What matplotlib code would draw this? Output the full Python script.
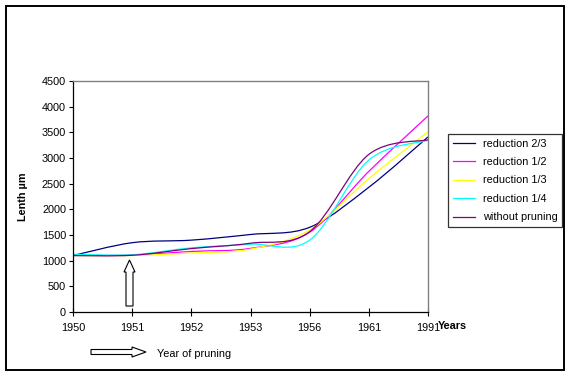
import matplotlib
matplotlib.use('Agg')
import matplotlib.pyplot as plt
from matplotlib.path import Path
from matplotlib.patches import PathPatch, Rectangle, FancyArrow
from matplotlib.lines import Line2D
from matplotlib.transforms import Affine2D

plt.rcParams['font.family'] = ['Liberation Sans', 'DejaVu Sans']

# data
years = ['1950', '1951', '1952', '1953', '1956', '1961', '1991']
red_2_3 = [1100, 1350, 1400, 1510, 1650, 2430, 3410]
red_1_2 = [1100, 1110, 1180, 1240, 1555, 2740, 3820]
red_1_3 = [1100, 1100, 1150, 1225, 1600, 2600, 3510]
red_1_4 = [1125, 1115, 1250, 1320, 1400, 2960, 3345]
no_prune = [1100, 1105, 1235, 1340, 1565, 3070, 3355]

series = [
    ('reduction 2/3', red_2_3, '#000080'),
    ('reduction 1/2', red_1_2, '#FF00FF'),
    ('reduction 1/3', red_1_3, '#FFFF00'),
    ('reduction 1/4', red_1_4, '#00FFFF'),
    ('without pruning', no_prune, '#800080'),
]

W, H = 570, 375
FS = 7.8


def smooth_path(vals):
    # Excel style smoothed line: cubic bezier through each point
    pts = list(zip(range(len(vals)), vals))
    n = len(pts)
    verts = [pts[0]]
    codes = [Path.MOVETO]
    for i in range(n - 1):
        p0 = pts[max(i - 1, 0)]
        p1 = pts[i]
        p2 = pts[i + 1]
        p3 = pts[min(i + 2, n - 1)]
        c1 = (p1[0] + (p2[0] - p0[0]) / 6, p1[1] + (p2[1] - p0[1]) / 6)
        c2 = (p2[0] - (p3[0] - p1[0]) / 6, p2[1] - (p3[1] - p1[1]) / 6)
        verts += [c1, c2, p2]
        codes += [Path.CURVE4] * 3
    return Path(verts, codes)


fig = plt.figure(figsize=(W / 100, H / 100), dpi=100)
px = Affine2D().scale(1 / W, -1 / H).translate(0, 1) + fig.transFigure

ax = fig.add_axes([73 / W, 1 - 312 / H, (428 - 73) / W, (312 - 81) / H])
handles = []
for label, vals, col in series:
    ax.add_patch(PathPatch(smooth_path(vals), fill=False, edgecolor=col, lw=0.9))
    handles.append(Line2D([], [], color=col, lw=0.9, label=label))

ax.set_xlim(0, len(years) - 1)
ax.set_ylim(0, 4500)
ax.set_xticks(range(len(years)))
ax.set_xticklabels(years, fontsize=FS)
ax.set_yticks(range(0, 4501, 500))
ax.tick_params(axis='y', labelsize=FS, length=3, width=0.8, pad=2)
ax.tick_params(axis='x', direction='inout', length=6, width=0.8, pad=5)
for s in ['top', 'right']:
    ax.spines[s].set_color('#808080')
    ax.spines[s].set_linewidth(1.0)
for s in ['left', 'bottom']:
    ax.spines[s].set_color('black')
    ax.spines[s].set_linewidth(0.9)

ax.set_ylabel('Lenth µm', fontsize=FS, fontweight='bold')
ax.yaxis.set_label_coords(28 / W, 1 - 197 / H, transform=fig.transFigure)

fig.text(438, 326, 'Years', transform=px, fontsize=FS, fontweight='bold',
         va='center', ha='left')
fig.text(157, 354, 'Year of pruning', transform=px, fontsize=FS,
         va='center', ha='left')

# arrows
fig.add_artist(FancyArrow(129.5, 306, 0, -46, width=7, head_width=11, head_length=12,
                          length_includes_head=True, facecolor='white',
                          edgecolor='black', lw=0.8, transform=px))
fig.add_artist(FancyArrow(91, 352, 55, 0, width=5, head_width=10, head_length=14,
                          length_includes_head=True, facecolor='white',
                          edgecolor='black', lw=0.8, transform=px))

leg = fig.legend(handles=handles, loc='upper left',
                 bbox_to_anchor=(448 / W, 1 - 134 / H), borderaxespad=0,
                 fontsize=FS, frameon=True, fancybox=False, handlelength=2.1,
                 handletextpad=0.7, labelspacing=0.78, borderpad=0.42)
leg.get_frame().set_edgecolor('black')
leg.get_frame().set_linewidth(0.9)

# outer chart border
fig.add_artist(Rectangle((5.5, 5.5), 558, 364, transform=px, fill=False,
                         edgecolor='black', lw=1.4))

fig.savefig('out.png', dpi=100)
